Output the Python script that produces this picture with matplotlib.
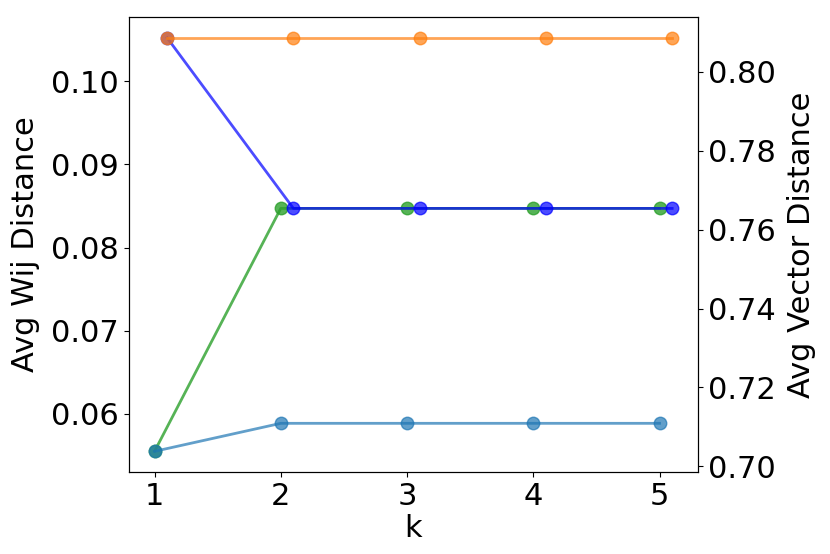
import matplotlib
matplotlib.use("Agg")
import matplotlib.pyplot as plt
import numpy as np

k = [1, 2, 3, 4, 5]
k_offset = [1.1, 2.1, 3.1, 4.1, 5.1]
wij_a = [0.0555, 0.0847, 0.0847, 0.0847, 0.0847]   # green
wij_b = [0.1052, 0.0847, 0.0847, 0.0847, 0.0847]   # blue
vec_a = [0.7038, 0.7109, 0.7109, 0.7109, 0.7109]   # light blue
vec_b = [0.8086, 0.8086, 0.8086, 0.8086, 0.8086]   # orange

plt.rcParams['font.size'] = 22
fig = plt.figure(figsize=(8.3, 5.54), dpi=100)
ax = fig.add_axes([0.155, 0.148, 0.686, 0.821])
ax.plot(k, wij_a, 'o-', color='tab:green', alpha=0.8, lw=2, ms=9)
ax.plot(k_offset, wij_b, 'o-', color='blue', alpha=0.7, lw=2, ms=9)
ax.set_xlabel('k', labelpad=2)
ax.set_ylabel('Avg Wij Distance', labelpad=8)
ax.set_xticks(k)
ax.set_yticks([0.06, 0.07, 0.08, 0.09, 0.10])

ax2 = ax.twinx()
ax2.plot(k, vec_a, 'o-', color='tab:blue', alpha=0.7, lw=2, ms=9)
ax2.plot(k_offset, vec_b, 'o-', color='tab:orange', alpha=0.7, lw=2, ms=9)
ax2.set_ylabel('Avg Vector Distance', labelpad=8)
ax2.set_yticks([0.70, 0.72, 0.74, 0.76, 0.78, 0.80])

fig.savefig('out.png', dpi=100)
